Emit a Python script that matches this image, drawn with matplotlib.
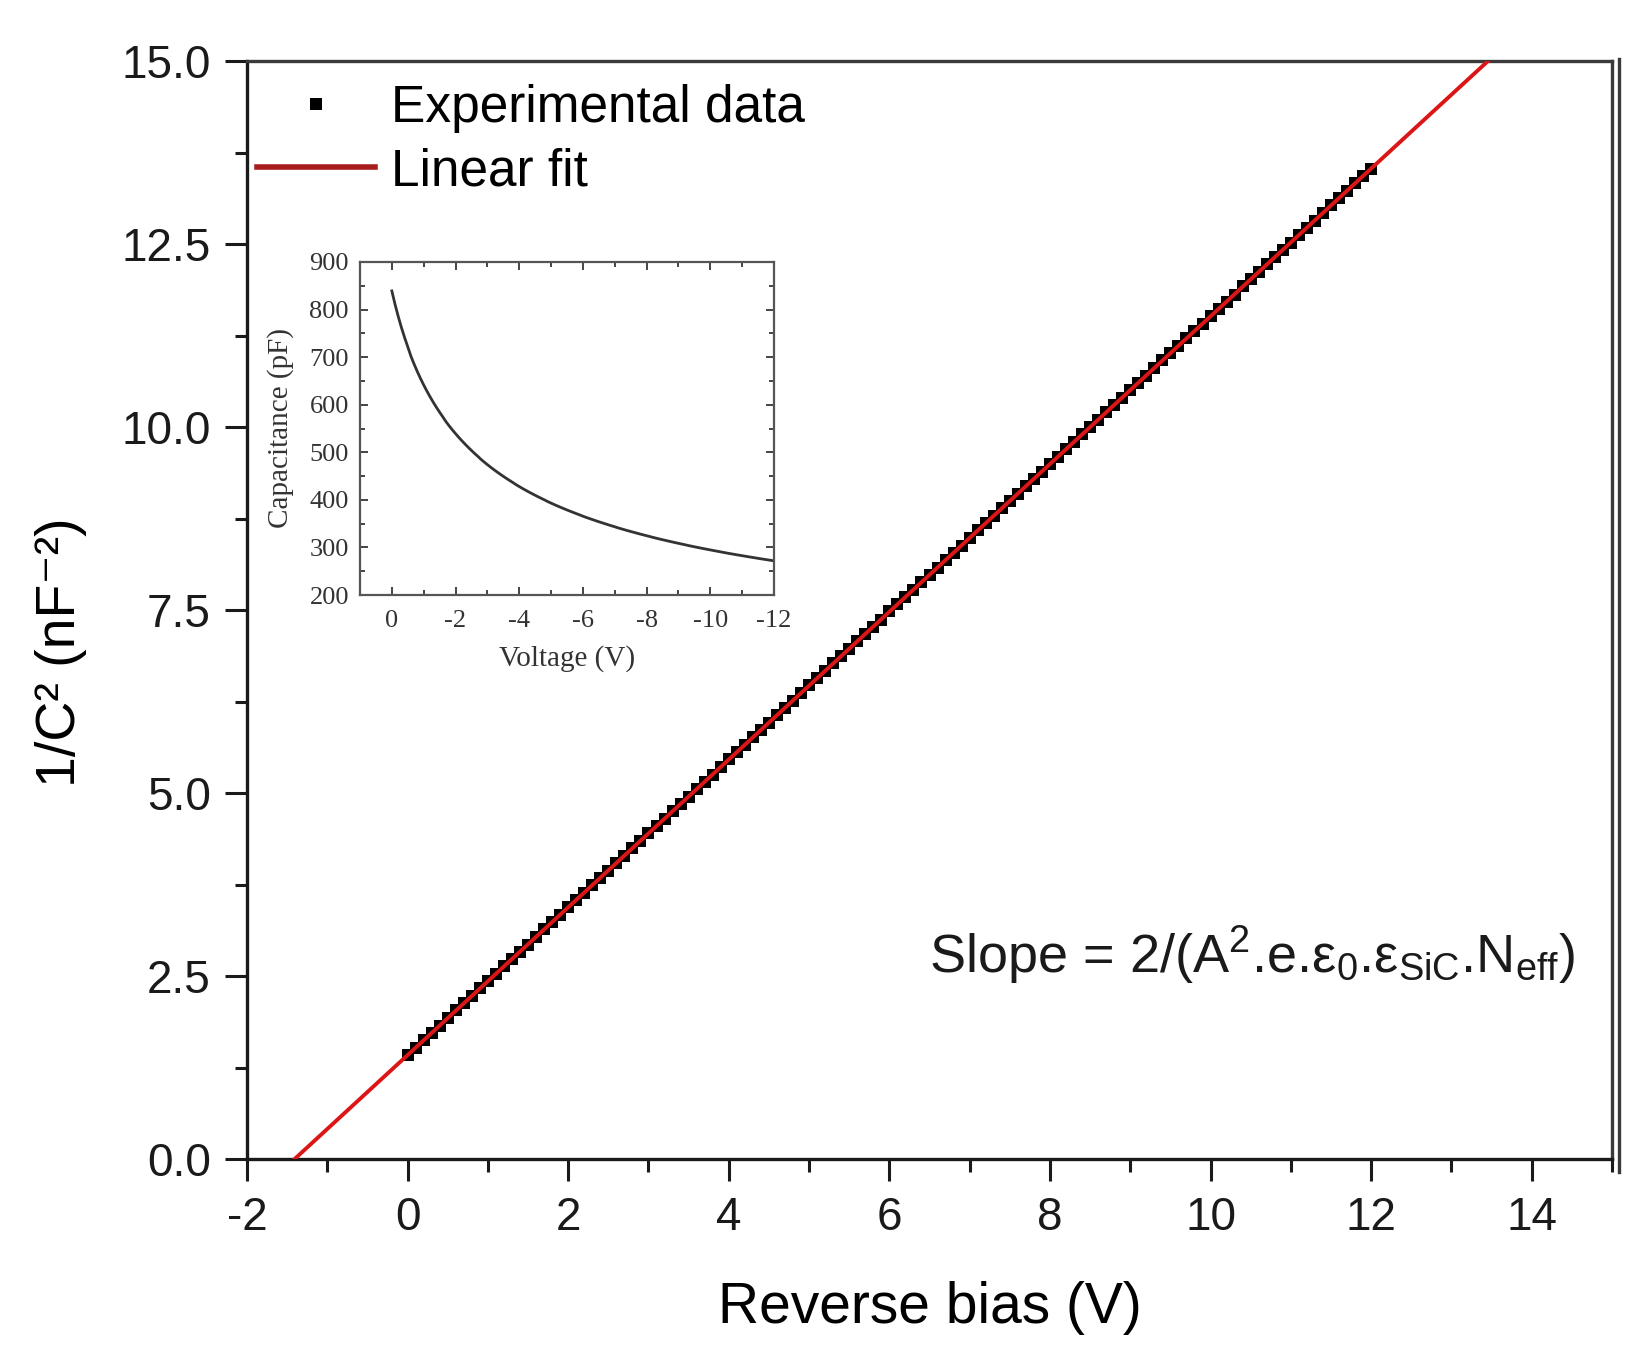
import numpy as np
import matplotlib
matplotlib.use('Agg')
import matplotlib.pyplot as plt
from matplotlib.ticker import MultipleLocator, FormatStrFormatter
from matplotlib.lines import Line2D

plt.rcParams['font.family'] = ['Liberation Sans', 'DejaVu Sans']
plt.rcParams['mathtext.fontset'] = 'custom'
plt.rcParams['mathtext.rm'] = 'Liberation Sans'
plt.rcParams['mathtext.it'] = 'Liberation Sans:italic'
plt.rcParams['mathtext.sf'] = 'Liberation Sans'
plt.rcParams['axes.unicode_minus'] = False

# reverse bias (V), 0.1 V steps
bias = np.round(np.arange(0, 121) * 0.1, 1)
# 1/C^2 (nF^-2)
inv_c2 = [1.42, 1.52, 1.62, 1.72, 1.82, 1.92, 2.03, 2.13, 2.23, 2.33,
          2.43, 2.53, 2.63, 2.73, 2.83, 2.93, 3.03, 3.14, 3.24, 3.34,
          3.44, 3.54, 3.64, 3.74, 3.84, 3.94, 4.04, 4.14, 4.25, 4.35,
          4.45, 4.55, 4.65, 4.75, 4.85, 4.95, 5.05, 5.15, 5.25, 5.36,
          5.46, 5.56, 5.66, 5.76, 5.86, 5.96, 6.06, 6.16, 6.26, 6.37,
          6.47, 6.57, 6.67, 6.77, 6.87, 6.97, 7.07, 7.17, 7.27, 7.37,
          7.48, 7.58, 7.68, 7.78, 7.88, 7.98, 8.08, 8.18, 8.28, 8.38,
          8.48, 8.59, 8.69, 8.79, 8.89, 8.99, 9.09, 9.19, 9.29, 9.39,
          9.49, 9.59, 9.70, 9.80, 9.90, 10.00, 10.10, 10.20, 10.30, 10.40,
          10.50, 10.60, 10.70, 10.81, 10.91, 11.01, 11.11, 11.21, 11.31, 11.41,
          11.51, 11.61, 11.71, 11.81, 11.92, 12.02, 12.12, 12.22, 12.32, 12.42,
          12.52, 12.62, 12.72, 12.82, 12.92, 13.03, 13.13, 13.23, 13.33, 13.43,
          13.53]
inv_c2 = np.array(inv_c2)

# linear fit
slope, intercept = np.polyfit(bias, inv_c2, 1)
xfit = np.array([-2.0, 15.0])
yfit = slope * xfit + intercept

# inset: C-V curve (capacitance in pF vs voltage)
voltage = -bias
cap_pf = 1000.0 / np.sqrt(inv_c2)

fig = plt.figure(figsize=(16.46, 13.55), dpi=100)
ax = fig.add_axes([247/1646, 1-1159/1355, 1365/1646, 1098/1355])

ax.plot(bias, inv_c2, 's', color='black', ms=8.5, mew=0, zorder=2, label='Experimental data')
ax.plot(xfit, yfit, color='#dc1616', lw=2.8, zorder=3, label='Linear fit')

ax.set_xlim(-2, 15)
ax.set_ylim(0, 15)
ax.xaxis.set_major_locator(MultipleLocator(2))
ax.xaxis.set_minor_locator(MultipleLocator(1))
ax.yaxis.set_major_locator(MultipleLocator(2.5))
ax.yaxis.set_minor_locator(MultipleLocator(1.25))
ax.yaxis.set_major_formatter(FormatStrFormatter('%.1f'))
ax.tick_params(which='both', direction='out', width=2.2, labelsize=33, colors='#1a1a1a')
ax.tick_params(which='major', length=16)
ax.tick_params(which='minor', length=9)
ax.tick_params(axis='x', pad=11)
ax.tick_params(axis='y', pad=10)
for s in ax.spines.values():
    s.set_linewidth(2.4)
    s.set_color('#1a1a1a')
ax.spines['top'].set_color('#3a3a3a')
ax.spines['right'].set_color('#3a3a3a')
# double right border
ax.add_line(Line2D([1 + 7/1365, 1 + 7/1365], [-0.012, 1.002], transform=ax.transAxes,
                   color='#3a3a3a', lw=2.4, clip_on=False))

ax.set_xlabel('Reverse bias (V)', fontsize=41, labelpad=29)
ax.set_ylabel('1/C² (nF⁻²)', fontsize=40)
ax.yaxis.set_label_coords(-0.117, 0.462)

h, l = ax.get_legend_handles_labels()
leg = ax.legend(h, l, loc='upper left', bbox_to_anchor=(257/1646, 1-84/1355),
                bbox_transform=fig.transFigure, frameon=False, fontsize=37,
                handlelength=2.3, handletextpad=0.3, labelspacing=0.28,
                borderpad=0, borderaxespad=0, markerscale=1.1)
leg.get_lines()[1].set_color('#a81c1c')
leg.get_lines()[1].set_linewidth(4)

ax.text(0.973, 0.186,
        r'Slope = 2/(A$^2$.e.$\mathrm{\varepsilon}_0$.$\mathrm{\varepsilon}_{\mathrm{SiC}}$.N$_{\mathrm{eff}}$)',
        transform=ax.transAxes, ha='right', va='center', fontsize=39, color='#1a1a1a')

# inset
ins = fig.add_axes([360/1646, 1-595/1355, 414/1646, 333/1355])
ins.plot(voltage, cap_pf, color='#333333', lw=2)
ins.set_xlim(1, -12)
ins.set_ylim(200, 900)
ins.set_xticks([0, -2, -4, -6, -8, -10, -12])
ins.xaxis.set_minor_locator(MultipleLocator(1))
ins.yaxis.set_major_locator(MultipleLocator(100))
ins.yaxis.set_minor_locator(MultipleLocator(50))
ins.tick_params(which='both', direction='in', top=True, right=True, width=1.4, color='#444444')
ins.tick_params(which='major', length=6, labelsize=19)
ins.tick_params(which='minor', length=3.5)
ins.tick_params(axis='x', pad=11)
ins.tick_params(axis='y', pad=8)
for lab in ins.get_xticklabels() + ins.get_yticklabels():
    lab.set_fontfamily('Liberation Serif')
    lab.set_color('#333333')
for s in ins.spines.values():
    s.set_linewidth(1.6)
    s.set_color('#555555')
ins.set_xlabel('Voltage (V)', fontsize=21, family='Liberation Serif', color='#333333', labelpad=9)
ins.set_ylabel('Capacitance (pF)', fontsize=21, family='Liberation Serif', color='#333333', labelpad=11)

fig.savefig('out.png', dpi=100)
